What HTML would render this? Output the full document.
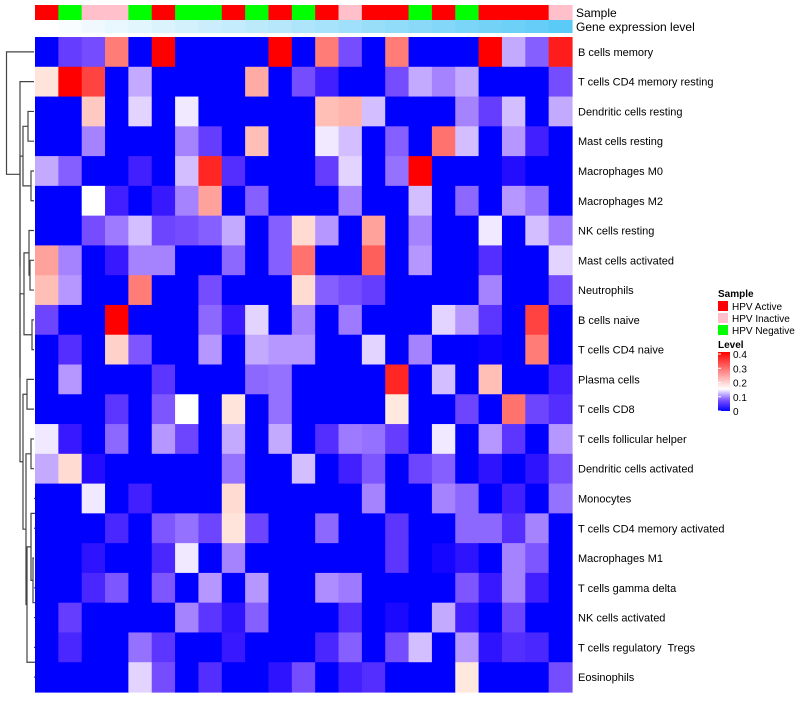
<!DOCTYPE html>
<html><head><meta charset="utf-8"><style>
body{margin:0;background:#fff;font-family:"Liberation Sans",sans-serif;}
svg text{font-family:"Liberation Sans",sans-serif;white-space:pre;}
</style></head><body>
<svg id="chart" width="800" height="700" xmlns="http://www.w3.org/2000/svg">
<g id="dendro" stroke="#444" stroke-width="1.2" fill="none"></g>
<g id="cells"></g>
<g id="anno"></g>
<g id="labels" font-size="11" fill="#000"></g>
<text x="576" y="17" font-size="12">Sample</text>
<text x="576" y="31" font-size="12">Gene expression level</text>
<g font-size="10">
<text x="718" y="297" font-weight="bold">Sample</text>
<rect x="718" y="301" width="10" height="10" fill="#ff0000"/>
<text x="732" y="310">HPV Active</text>
<rect x="718" y="313" width="10" height="10" fill="#ffc0cb"/>
<text x="732" y="322">HPV Inactive</text>
<rect x="718" y="325" width="10" height="10" fill="#00ff00"/>
<text x="732" y="334">HPV Negative</text>
</g>
<g font-size="10">
<text x="718" y="348" font-weight="bold">Level</text>
<defs><linearGradient id="lg" x1="0" y1="1" x2="0" y2="0">
<stop offset="0" stop-color="#0000ff"/><stop offset="0.18" stop-color="#7a50ff"/><stop offset="0.375" stop-color="#ffffff"/><stop offset="1" stop-color="#ff0000"/></linearGradient></defs>
<rect x="718" y="352" width="12" height="59" fill="url(#lg)"/>
<g id="levelTicks"></g>
</g>
</svg>
<script>
const rowNames=["B cells memory","T cells CD4 memory resting","Dendritic cells resting","Mast cells resting","Macrophages M0","Macrophages M2","NK cells resting","Mast cells activated","Neutrophils","B cells naive","T cells CD4 naive","Plasma cells","T cells CD8","T cells follicular helper","Dendritic cells activated","Monocytes","T cells CD4 memory activated","Macrophages M1","T cells gamma delta","NK cells activated","T cells regulatory  Tregs","Eosinophils"];
const sampleGroups=["A","N","I","I","N","A","N","N","A","N","A","N","A","I","A","A","N","A","N","A","A","A","I"];
const geneLevels=[0,0.04,0.08,0.12,0.16,0.2,0.24,0.28,0.32,0.36,0.4,0.44,0.48,0.52,0.56,0.6,0.64,0.68,0.72,0.76,0.8,0.84,0.9];
const levelTicks=[0,0.1,0.2,0.3,0.4];
const r0=[0,0.05,0.06,0.27,0,0.42,0,0,0,0,0.42,0,0.27,0.06,0,0.27,0,0,0,0.42,0.11,0.07,0.37];
const r1=[0.16,0.42,0.33,0,0.11,0,0,0,0,0.22,0,0.06,0.03,0,0,0.06,0.11,0.09,0.11,0,0,0,0.06];
const r2=[0,0,0.19,0,0.13,0,0.14,0,0,0,0,0,0.2,0.21,0.12,0,0,0,0.09,0.05,0.12,0,0.11];
const r3=[0,0,0.09,0,0,0,0.09,0.05,0,0.2,0,0,0.14,0.12,0,0.07,0,0.28,0.12,0,0.1,0.03,0];
const r4=[0.11,0.07,0,0,0.03,0,0.12,0.36,0.04,0,0,0,0.05,0.13,0,0.08,0.42,0,0,0,0.015,0,0];
const r5=[0,0,0.15,0.03,0,0.025,0.09,0.23,0,0.07,0,0,0,0.09,0,0,0.12,0,0.075,0,0.1,0.08,0];
const r6=[0,0,0.06,0.085,0.12,0.055,0.06,0.07,0.11,0,0.07,0.17,0.1,0,0.23,0,0.09,0,0,0.14,0,0.12,0.085];
const r7=[0.23,0.09,0,0.025,0.09,0.09,0,0,0.075,0,0.07,0.28,0,0,0.3,0,0.1,0,0,0.04,0,0,0.13];
const r8=[0.2,0.1,0,0,0.27,0,0,0.06,0,0,0,0.17,0.07,0.06,0.05,0,0,0,0,0.09,0,0,0.06];
const r9=[0.055,0,0,0.42,0,0,0,0.075,0.025,0.13,0,0.09,0,0.085,0,0,0,0.13,0.1,0.045,0,0.33,0];
const r10=[0,0.04,0,0.18,0.065,0,0,0.1,0,0.11,0.1,0.1,0,0,0.13,0,0.09,0,0,0.005,0,0.27,0];
const r11=[0,0.1,0,0,0,0.045,0,0,0,0.075,0.08,0,0,0,0,0.36,0,0.12,0,0.2,0,0,0.03];
const r12=[0,0,0,0.045,0,0.065,0.15,0,0.16,0,0.08,0,0,0,0,0.155,0,0,0.055,0,0.28,0.055,0.04];
const r13=[0.14,0.025,0,0.075,0,0.1,0.055,0,0.11,0,0.11,0,0.04,0.085,0.08,0.05,0,0.14,0,0.1,0.045,0,0.1];
const r14=[0.11,0.17,0.015,0,0,0,0,0,0.08,0,0,0.12,0,0.03,0.065,0,0.055,0.07,0,0.02,0,0.02,0.06];
const r15=[0,0,0.14,0,0.03,0,0,0,0.17,0,0,0,0,0,0.09,0,0,0.09,0.075,0,0.03,0,0.08];
const r16=[0,0,0,0.035,0,0.065,0.08,0.055,0.16,0.055,0,0,0.075,0,0,0.045,0,0,0.075,0.075,0.04,0.09,0];
const r17=[0,0,0.02,0,0,0.035,0.14,0,0.09,0,0,0,0,0,0,0.045,0,0.008,0.02,0,0.09,0.065,0];
const r18=[0,0,0.035,0.065,0,0.065,0,0.1,0,0.1,0,0,0.095,0.085,0,0,0,0,0.065,0.025,0.09,0.03,0];
const r19=[0,0.05,0,0,0,0,0.09,0.045,0.02,0.07,0,0,0,0.04,0,0.01,0,0.11,0.03,0,0.055,0,0];
const r20=[0,0.035,0,0,0.08,0.045,0,0,0.025,0,0,0,0.035,0.07,0,0.06,0.12,0,0.1,0.02,0.04,0.035,0];
const r21=[0,0,0,0,0.13,0.06,0,0.04,0,0,0.02,0.06,0,0.03,0.04,0,0,0,0.155,0,0,0,0.06];
const matrix=[r0,r1,r2,r3,r4,r5,r6,r7,r8,r9,r10,r11,r12,r13,r14,r15,r16,r17,r18,r19,r20,r21];

const NS="http://www.w3.org/2000/svg";
const X0=35,X1=572,Y0=37,Y1=692;
const nCol=sampleGroups.length,nRow=rowNames.length;
const cw=(X1-X0)/nCol,rh=(Y1-Y0)/nRow;
const xPos=i=>X0+i*cw, yPos=i=>Y0+i*rh, yMid=i=>Y0+(i+0.5)*rh;
function mix(a,b,t){return a.map((v,k)=>Math.round(v+(b[k]-v)*t));}
function colorFor(v){
  const mid=0.15,max=0.4;
  if(v<=mid){
    const t=Math.max(0,v)/mid;
    const r=Math.round(255*Math.pow(t,0.85)), g=Math.round(255*Math.pow(t,1.3));
    return `rgb(${r},${g},255)`;
  }
  const t=Math.min(1,(v-mid)/(max-mid));
  return `rgb(255,${Math.round(238*(1-t))},${Math.round(228*(1-t))})`;
}
function el(tag,attrs,parent){const e=document.createElementNS(NS,tag);for(const k in attrs)e.setAttribute(k,attrs[k]);parent.appendChild(e);return e;}
const cells=document.getElementById('cells');
matrix.forEach((row,r)=>row.forEach((v,c)=>{
  const e=el('rect',{x:xPos(c),y:yPos(r),width:cw+0.6,height:rh+0.6,fill:colorFor(v)},cells);
  
  
}));
const sampleColors={A:"#ff0000",I:"#ffc0cb",N:"#00ff00"};
const anno=document.getElementById('anno');
sampleGroups.forEach((g,c)=>{
  const e=el('rect',{x:xPos(c),y:5,width:cw+0.6,height:15,fill:sampleColors[g]},anno);
  
  
});
geneLevels.forEach((g,c)=>{
  const col=mix([255,255,255],[72,196,245],g);
  const e=el('rect',{x:xPos(c),y:20,width:cw+0.6,height:13,fill:`rgb(${col[0]},${col[1]},${col[2]})`},anno);
  
  
});
const labels=document.getElementById('labels');
rowNames.forEach((n,r)=>{
  const t=el('text',{x:578,y:yMid(r)+4},labels);
  t.textContent=n;
  
  
});
const lt=document.getElementById('levelTicks');
levelTicks.forEach(v=>{
  const y=411-(v/0.4)*57;
  const l=el('line',{x1:718,x2:721,y1:y,y2:y,stroke:'#fff'},lt);
  
  
  const t=el('text',{x:733,y:y+4},lt);
  t.textContent=String(v);
  
  
});
const tree=[6.5,0,[20,1,[20,[23,[28,2,3],[31,4,5]],[20,[24,[29,6,[30,7,8]],[32,9,10]],[23,[27,11,12],[26,[31,13,14],[27,[31,[36,15,16],[33,17,[38,18,19]]],[37,20,21]]]]]]]];
const dg=document.getElementById('dendro');
function draw(n){
  if(typeof n==='number')return {x:X0-1,y:yMid(n)};
  const a=draw(n[1]),b=draw(n[2]),x=n[0];
  const p=el('path',{d:`M${a.x},${a.y}H${x}V${b.y}H${b.x}`},dg);
  
  
  return {x:x,y:(a.y+b.y)/2};
}
draw(tree);
</script>
</body></html>
